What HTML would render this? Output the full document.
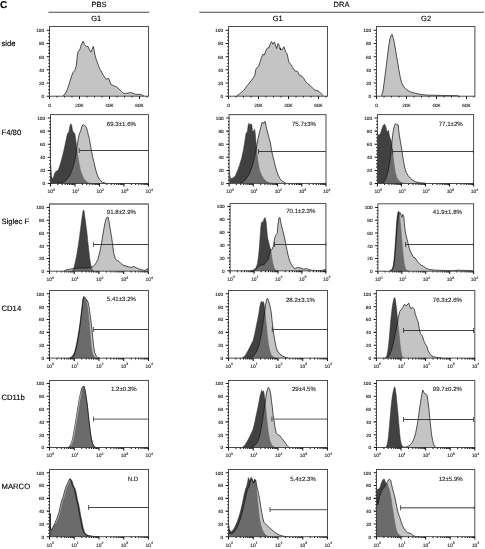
<!DOCTYPE html>
<html><head><meta charset="utf-8"><title>Figure C</title>
<style>html,body{margin:0;padding:0;background:#fff}svg{display:block}text{text-rendering:geometricPrecision;font-family:"Liberation Sans", sans-serif;fill:#000;stroke:#000;stroke-width:0.13px}text.p{fill:#1a1a1a;stroke:#1a1a1a;stroke-width:0.11px}text.t{fill:#222;stroke:#222;stroke-width:0.12px}</style>
</head><body>
<svg width="485" height="549" viewBox="0 0 485 549">
<rect width="485" height="549" fill="#fff"/>
<clipPath id="c00"><rect x="49.5" y="26.5" width="99" height="70"/></clipPath>
<g clip-path="url(#c00)">
<path d="M62.94 96.2L62.94 95.86 65.1 93.99 67.27 89.66 69.43 83.16 71.16 77.39 73.04 72.34 74.91 70.18 76.36 65.13 77.37 55.02 78.09 51.42 79.53 50.41 80.97 45.65 83.14 41.32 84.58 44.63 86.02 46.08 88.19 46.8 89.63 49.97 91.08 52.14 92.23 49.25 93.24 46.37 94.25 50.7 95.4 57.19 96.85 60.8 98.29 65.13 99.73 68.73 103.09 74.85 106.19 79.18 108.66 78.56 111.14 84.75 113.61 85.62 116.71 86.98 119.8 89.7 123.51 93.42 127.85 93.17 130.32 92.43 132.8 93.17 135.27 94.28 138.37 94.41 140.84 94.28 142.7 95.52 144.55 96.2L144.55 96.2Z" fill="rgb(145,145,145)" fill-opacity="0.534" stroke="none"/>
<path d="M62.94 95.86 65.1 93.99 67.27 89.66 69.43 83.16 71.16 77.39 73.04 72.34 74.91 70.18 76.36 65.13 77.37 55.02 78.09 51.42 79.53 50.41 80.97 45.65 83.14 41.32 84.58 44.63 86.02 46.08 88.19 46.8 89.63 49.97 91.08 52.14 92.23 49.25 93.24 46.37 94.25 50.7 95.4 57.19 96.85 60.8 98.29 65.13 99.73 68.73 103.09 74.85 106.19 79.18 108.66 78.56 111.14 84.75 113.61 85.62 116.71 86.98 119.8 89.7 123.51 93.42 127.85 93.17 130.32 92.43 132.8 93.17 135.27 94.28 138.37 94.41 140.84 94.28 142.7 95.52 144.55 96.2" fill="none" stroke="#141414" stroke-width="0.72" stroke-linejoin="round"/>
</g>
<rect x="49.5" y="26.5" width="99" height="69.7" fill="none" stroke="#464646" stroke-width="0.95"/>
<path d="M46.7 96.2H49.5M48.3 92.91H49.5M48.3 89.61H49.5M48.3 86.31H49.5M46.7 83.02H49.5M48.3 79.72H49.5M48.3 76.43H49.5M48.3 73.14H49.5M46.7 69.84H49.5M48.3 66.55H49.5M48.3 63.25H49.5M48.3 59.95H49.5M46.7 56.66H49.5M48.3 53.36H49.5M48.3 50.07H49.5M48.3 46.77H49.5M46.7 43.48H49.5M48.3 40.18H49.5M48.3 36.89H49.5M48.3 33.59H49.5M46.7 30.3H49.5" stroke="#161616" stroke-width="1.05" fill="none"/>
<text x="44.1" y="98.05" font-size="4.7" text-anchor="end" class="t">0</text>
<text x="44.1" y="84.87" font-size="4.7" text-anchor="end" class="t">20</text>
<text x="44.1" y="71.69" font-size="4.7" text-anchor="end" class="t">40</text>
<text x="44.1" y="58.51" font-size="4.7" text-anchor="end" class="t">60</text>
<text x="44.1" y="45.33" font-size="4.7" text-anchor="end" class="t">80</text>
<text x="44.1" y="32.15" font-size="4.7" text-anchor="end" class="t">100</text>
<text x="49.5" y="106.7" font-size="4.7" text-anchor="middle" class="t">0</text>
<text x="79.5" y="106.7" font-size="4.7" text-anchor="middle" class="t">20K</text>
<text x="109.5" y="106.7" font-size="4.7" text-anchor="middle" class="t">40K</text>
<text x="139.5" y="106.7" font-size="4.7" text-anchor="middle" class="t">60K</text>
<path d="M49.5 96.2V99.1M57 96.2V97.5M64.5 96.2V97.5M72 96.2V97.5M79.5 96.2V99.1M87 96.2V97.5M94.5 96.2V97.5M102 96.2V97.5M109.5 96.2V99.1M117 96.2V97.5M124.5 96.2V97.5M132 96.2V97.5M139.5 96.2V99.1M147 96.2V97.5" stroke="#161616" stroke-width="1.05" fill="none"/>
<clipPath id="c01"><rect x="228.5" y="26.5" width="99" height="70"/></clipPath>
<g clip-path="url(#c01)">
<path d="M236.54 96.2L236.54 96.15 239.43 93.99 243.76 90.38 247.37 85.33 250.97 81 254.58 75.95 256.02 68.73 258.91 65.85 261.08 58.63 262.81 54.3 264.25 55.02 266.13 49.97 267.57 47.81 269.01 47.81 270.45 43.48 271.46 41.6 272.91 44.2 274.35 42.04 275.51 44.92 276.52 48.53 278.1 43.48 279.55 46.37 280.56 49.97 280 47.94 281.7 50.21 283.97 46.8 285.67 51.91 287.03 53.61 288.85 62.11 290.77 64.38 292.47 67.22 294.74 70.85 297.58 71.53 299.28 75.16 302.11 76.29 303.81 78.56 305.52 81.39 307.78 83.66 310.05 85.36 312.32 87.86 314.59 89.9 316.86 90.46 319.12 91.6 321.39 93.87 323.66 96.14L323.66 96.2Z" fill="rgb(145,145,145)" fill-opacity="0.534" stroke="none"/>
<path d="M236.54 96.15 239.43 93.99 243.76 90.38 247.37 85.33 250.97 81 254.58 75.95 256.02 68.73 258.91 65.85 261.08 58.63 262.81 54.3 264.25 55.02 266.13 49.97 267.57 47.81 269.01 47.81 270.45 43.48 271.46 41.6 272.91 44.2 274.35 42.04 275.51 44.92 276.52 48.53 278.1 43.48 279.55 46.37 280.56 49.97 280 47.94 281.7 50.21 283.97 46.8 285.67 51.91 287.03 53.61 288.85 62.11 290.77 64.38 292.47 67.22 294.74 70.85 297.58 71.53 299.28 75.16 302.11 76.29 303.81 78.56 305.52 81.39 307.78 83.66 310.05 85.36 312.32 87.86 314.59 89.9 316.86 90.46 319.12 91.6 321.39 93.87 323.66 96.14" fill="none" stroke="#141414" stroke-width="0.72" stroke-linejoin="round"/>
</g>
<rect x="228.5" y="26.5" width="99" height="69.7" fill="none" stroke="#464646" stroke-width="0.95"/>
<path d="M225.7 96.2H228.5M227.3 92.91H228.5M227.3 89.61H228.5M227.3 86.31H228.5M225.7 83.02H228.5M227.3 79.72H228.5M227.3 76.43H228.5M227.3 73.14H228.5M225.7 69.84H228.5M227.3 66.55H228.5M227.3 63.25H228.5M227.3 59.95H228.5M225.7 56.66H228.5M227.3 53.36H228.5M227.3 50.07H228.5M227.3 46.77H228.5M225.7 43.48H228.5M227.3 40.18H228.5M227.3 36.89H228.5M227.3 33.59H228.5M225.7 30.3H228.5" stroke="#161616" stroke-width="1.05" fill="none"/>
<text x="223.1" y="98.05" font-size="4.7" text-anchor="end" class="t">0</text>
<text x="223.1" y="84.87" font-size="4.7" text-anchor="end" class="t">20</text>
<text x="223.1" y="71.69" font-size="4.7" text-anchor="end" class="t">40</text>
<text x="223.1" y="58.51" font-size="4.7" text-anchor="end" class="t">60</text>
<text x="223.1" y="45.33" font-size="4.7" text-anchor="end" class="t">80</text>
<text x="223.1" y="32.15" font-size="4.7" text-anchor="end" class="t">100</text>
<text x="228.5" y="106.7" font-size="4.7" text-anchor="middle" class="t">0</text>
<text x="258.5" y="106.7" font-size="4.7" text-anchor="middle" class="t">20K</text>
<text x="288.5" y="106.7" font-size="4.7" text-anchor="middle" class="t">40K</text>
<text x="318.5" y="106.7" font-size="4.7" text-anchor="middle" class="t">60K</text>
<path d="M228.5 96.2V99.1M236 96.2V97.5M243.5 96.2V97.5M251 96.2V97.5M258.5 96.2V99.1M266 96.2V97.5M273.5 96.2V97.5M281 96.2V97.5M288.5 96.2V99.1M296 96.2V97.5M303.5 96.2V97.5M311 96.2V97.5M318.5 96.2V99.1M326 96.2V97.5" stroke="#161616" stroke-width="1.05" fill="none"/>
<clipPath id="c02"><rect x="376.5" y="26.5" width="98.4" height="70"/></clipPath>
<g clip-path="url(#c02)">
<path d="M381.38 96.2L381.38 95.72 382.82 91.82 384.27 81.72 385.71 70.18 387.15 58.63 388.59 47.09 390.04 38.43 391.48 34.82 392.2 34.39 393.36 38.43 394.37 42.76 395.81 51.42 397.25 60.08 398.7 68.73 400.14 76.67 401.58 82.44 403.75 86.77 406.63 89.66 410.24 91.82 415.29 93.26 421.06 94.42 426.83 95.14 441.99 95.43 458.58 95.72L458.58 96.2Z" fill="rgb(145,145,145)" fill-opacity="0.534" stroke="none"/>
<path d="M381.38 95.72 382.82 91.82 384.27 81.72 385.71 70.18 387.15 58.63 388.59 47.09 390.04 38.43 391.48 34.82 392.2 34.39 393.36 38.43 394.37 42.76 395.81 51.42 397.25 60.08 398.7 68.73 400.14 76.67 401.58 82.44 403.75 86.77 406.63 89.66 410.24 91.82 415.29 93.26 421.06 94.42 426.83 95.14 441.99 95.43 458.58 95.72" fill="none" stroke="#141414" stroke-width="0.72" stroke-linejoin="round"/>
</g>
<rect x="376.5" y="26.5" width="98.4" height="69.7" fill="none" stroke="#464646" stroke-width="0.95"/>
<path d="M373.7 96.2H376.5M375.3 92.91H376.5M375.3 89.61H376.5M375.3 86.31H376.5M373.7 83.02H376.5M375.3 79.72H376.5M375.3 76.43H376.5M375.3 73.14H376.5M373.7 69.84H376.5M375.3 66.55H376.5M375.3 63.25H376.5M375.3 59.95H376.5M373.7 56.66H376.5M375.3 53.36H376.5M375.3 50.07H376.5M375.3 46.77H376.5M373.7 43.48H376.5M375.3 40.18H376.5M375.3 36.89H376.5M375.3 33.59H376.5M373.7 30.3H376.5" stroke="#161616" stroke-width="1.05" fill="none"/>
<text x="371.1" y="98.05" font-size="4.7" text-anchor="end" class="t">0</text>
<text x="371.1" y="84.87" font-size="4.7" text-anchor="end" class="t">20</text>
<text x="371.1" y="71.69" font-size="4.7" text-anchor="end" class="t">40</text>
<text x="371.1" y="58.51" font-size="4.7" text-anchor="end" class="t">60</text>
<text x="371.1" y="45.33" font-size="4.7" text-anchor="end" class="t">80</text>
<text x="371.1" y="32.15" font-size="4.7" text-anchor="end" class="t">100</text>
<text x="376.5" y="106.7" font-size="4.7" text-anchor="middle" class="t">0</text>
<text x="406.5" y="106.7" font-size="4.7" text-anchor="middle" class="t">20K</text>
<text x="436.5" y="106.7" font-size="4.7" text-anchor="middle" class="t">40K</text>
<text x="466.5" y="106.7" font-size="4.7" text-anchor="middle" class="t">60K</text>
<path d="M376.5 96.2V99.1M384 96.2V97.5M391.5 96.2V97.5M399 96.2V97.5M406.5 96.2V99.1M414 96.2V97.5M421.5 96.2V97.5M429 96.2V97.5M436.5 96.2V99.1M444 96.2V97.5M451.5 96.2V97.5M459 96.2V97.5M466.5 96.2V99.1M474 96.2V97.5" stroke="#161616" stroke-width="1.05" fill="none"/>
<clipPath id="c10"><rect x="50.5" y="114.6" width="98" height="69.2"/></clipPath>
<g clip-path="url(#c10)">
<path d="M50.48 183.5L50.48 183.14 50.63 163.95 51.49 175.49 52.22 178.67 53.37 177.66 54.38 174.05 55.82 171.45 57.99 170.44 59.43 166.83 61.59 159.62 63.76 150.96 65.92 140.86 67.37 133.65 68.81 132.2 69.82 126.43 70.69 123.83 71.7 124.99 72.42 130.04 73.57 132.2 74.87 133.65 75.59 137.97 76.46 145.19 77.47 153.85 78.91 162.51 80.35 169.72 81.8 174.05 83.67 178.38 86.13 181.26 88.29 182.71 90.45 183.14L90.45 183.5Z" fill="#414141" stroke="#303030" stroke-width="0.5" stroke-linejoin="round"/>
<path d="M57.99 183.5L57.99 183.14 62.32 182.42 65.92 180.54 68.81 176.94 70.97 172.61 73.14 166.83 74.58 161.06 76.02 153.85 77.03 146.63 78.19 139.42 79.34 133.65 80.79 130.76 81.8 126.43 82.81 124.7 84.25 125.28 85.4 126 86.56 127.87 87.57 131.48 88.29 135.09 89.44 138.7 90.45 145.19 91.46 150.96 92.62 156.73 94.06 162.51 95.51 169 96.95 174.05 98.68 178.09 100.56 180.54 102.72 182.27 105.61 183.14L105.61 183.5Z" fill="rgb(145,145,145)" fill-opacity="0.534" stroke="none"/>
<path d="M57.99 183.14 62.32 182.42 65.92 180.54 68.81 176.94 70.97 172.61 73.14 166.83 74.58 161.06 76.02 153.85 77.03 146.63 78.19 139.42 79.34 133.65 80.79 130.76 81.8 126.43 82.81 124.7 84.25 125.28 85.4 126 86.56 127.87 87.57 131.48 88.29 135.09 89.44 138.7 90.45 145.19 91.46 150.96 92.62 156.73 94.06 162.51 95.51 169 96.95 174.05 98.68 178.09 100.56 180.54 102.72 182.27 105.61 183.14" fill="none" stroke="#141414" stroke-width="0.72" stroke-linejoin="round"/>
</g>
<path d="M79.2 150.5H148.4" stroke="#2e2e2e" stroke-width="0.9" fill="none"/>
<path d="M79.2 148V153" stroke="#2e2e2e" stroke-width="0.8" fill="none"/>
<text x="121.4" y="125.75" font-size="6.1" text-anchor="middle" class="p">69.3±1.6%</text>
<rect x="50.5" y="114.6" width="98" height="68.9" fill="none" stroke="#464646" stroke-width="0.95"/>
<path d="M47.7 183.5H50.5M49.3 180.22H50.5M49.3 176.95H50.5M49.3 173.68H50.5M47.7 170.4H50.5M49.3 167.12H50.5M49.3 163.85H50.5M49.3 160.57H50.5M47.7 157.3H50.5M49.3 154.03H50.5M49.3 150.75H50.5M49.3 147.47H50.5M47.7 144.2H50.5M49.3 140.93H50.5M49.3 137.65H50.5M49.3 134.38H50.5M47.7 131.1H50.5M49.3 127.83H50.5M49.3 124.55H50.5M49.3 121.28H50.5M47.7 118H50.5" stroke="#161616" stroke-width="1.05" fill="none"/>
<text x="45.1" y="185.35" font-size="4.7" text-anchor="end" class="t">0</text>
<text x="45.1" y="172.25" font-size="4.7" text-anchor="end" class="t">20</text>
<text x="45.1" y="159.15" font-size="4.7" text-anchor="end" class="t">40</text>
<text x="45.1" y="146.05" font-size="4.7" text-anchor="end" class="t">60</text>
<text x="45.1" y="132.95" font-size="4.7" text-anchor="end" class="t">80</text>
<text x="45.1" y="119.85" font-size="4.7" text-anchor="end" class="t">100</text>
<text x="47.6" y="193.3" font-size="4.9" class="t">10<tspan dy="-2.5" font-size="3.6">0</tspan></text>
<text x="72.1" y="193.3" font-size="4.9" class="t">10<tspan dy="-2.5" font-size="3.6">1</tspan></text>
<text x="96.6" y="193.3" font-size="4.9" class="t">10<tspan dy="-2.5" font-size="3.6">2</tspan></text>
<text x="121.1" y="193.3" font-size="4.9" class="t">10<tspan dy="-2.5" font-size="3.6">3</tspan></text>
<text x="145.6" y="193.3" font-size="4.9" class="t">10<tspan dy="-2.5" font-size="3.6">4</tspan></text>
<path d="M50.5 183.5V186.4M57.88 183.5V184.9M62.19 183.5V184.9M65.25 183.5V184.9M67.62 183.5V184.9M69.56 183.5V184.9M71.2 183.5V184.9M72.63 183.5V184.9M73.88 183.5V184.9M75 183.5V186.4M82.38 183.5V184.9M86.69 183.5V184.9M89.75 183.5V184.9M92.12 183.5V184.9M94.06 183.5V184.9M95.7 183.5V184.9M97.13 183.5V184.9M98.38 183.5V184.9M99.5 183.5V186.4M106.88 183.5V184.9M111.19 183.5V184.9M114.25 183.5V184.9M116.62 183.5V184.9M118.56 183.5V184.9M120.2 183.5V184.9M121.63 183.5V184.9M122.88 183.5V184.9M124 183.5V186.4M131.38 183.5V184.9M135.69 183.5V184.9M138.75 183.5V184.9M141.12 183.5V184.9M143.06 183.5V184.9M144.7 183.5V184.9M146.13 183.5V184.9M147.38 183.5V184.9M148.5 183.5V186.4" stroke="#161616" stroke-width="1.05" fill="none"/>
<clipPath id="c11"><rect x="229.1" y="114.6" width="96.9" height="69.2"/></clipPath>
<g clip-path="url(#c11)">
<path d="M229.33 183.5L229.33 183.14 229.47 169.72 229.91 175.49 230.77 178.67 232.94 178.09 235.1 176.21 237.27 171.16 239.43 165.39 241.59 158.18 243.47 149.52 244.91 140.86 245.92 133.65 247.37 131.48 248.09 125.71 248.81 123.26 249.82 124.7 250.97 123.83 251.84 124.99 252.42 130.76 253.43 131.48 254.58 129.03 255.3 133.65 255.74 139.42 256.46 146.63 257.03 153.85 257.9 161.06 258.91 166.83 259.92 171.16 261.8 175.49 263.67 178.67 266.13 181.26 269.01 182.71 272.62 183.14L272.62 183.5Z" fill="#414141" stroke="#303030" stroke-width="0.5" stroke-linejoin="round"/>
<path d="M239.43 183.5L239.43 183.14 243.04 181.99 245.92 179.1 248.81 174.77 250.97 169.72 253.14 163.23 254.58 156.73 256.02 150.24 257.03 144.47 258.19 137.97 259.63 131.48 261.08 126.43 261.8 122.82 262.81 122.39 263.67 123.54 264.68 121.38 265.4 121.81 266.13 126.43 267.14 130.76 268.29 135.09 269.44 139.42 270.45 143.02 271.46 149.52 272.62 155.29 274.06 161.06 275.51 166.83 276.95 171.88 278.68 176.21 280.56 179.53 282.72 181.55 285.61 183.14L285.61 183.5Z" fill="rgb(145,145,145)" fill-opacity="0.534" stroke="none"/>
<path d="M239.43 183.14 243.04 181.99 245.92 179.1 248.81 174.77 250.97 169.72 253.14 163.23 254.58 156.73 256.02 150.24 257.03 144.47 258.19 137.97 259.63 131.48 261.08 126.43 261.8 122.82 262.81 122.39 263.67 123.54 264.68 121.38 265.4 121.81 266.13 126.43 267.14 130.76 268.29 135.09 269.44 139.42 270.45 143.02 271.46 149.52 272.62 155.29 274.06 161.06 275.51 166.83 276.95 171.88 278.68 176.21 280.56 179.53 282.72 181.55 285.61 183.14" fill="none" stroke="#141414" stroke-width="0.72" stroke-linejoin="round"/>
</g>
<path d="M258.5 151.5H326" stroke="#2e2e2e" stroke-width="0.9" fill="none"/>
<path d="M258.5 149V154" stroke="#2e2e2e" stroke-width="0.8" fill="none"/>
<text x="304" y="125.65" font-size="6.1" text-anchor="middle" class="p">75.7±3%</text>
<rect x="229.1" y="114.6" width="96.9" height="68.9" fill="none" stroke="#5a5a5a" stroke-width="1.1"/>
<path d="M226.3 183.5H229.1M227.9 180.22H229.1M227.9 176.95H229.1M227.9 173.68H229.1M226.3 170.4H229.1M227.9 167.12H229.1M227.9 163.85H229.1M227.9 160.57H229.1M226.3 157.3H229.1M227.9 154.03H229.1M227.9 150.75H229.1M227.9 147.47H229.1M226.3 144.2H229.1M227.9 140.93H229.1M227.9 137.65H229.1M227.9 134.38H229.1M226.3 131.1H229.1M227.9 127.83H229.1M227.9 124.55H229.1M227.9 121.28H229.1M226.3 118H229.1" stroke="#161616" stroke-width="1.05" fill="none"/>
<text x="223.7" y="185.35" font-size="4.7" text-anchor="end" class="t">0</text>
<text x="223.7" y="172.25" font-size="4.7" text-anchor="end" class="t">20</text>
<text x="223.7" y="159.15" font-size="4.7" text-anchor="end" class="t">40</text>
<text x="223.7" y="146.05" font-size="4.7" text-anchor="end" class="t">60</text>
<text x="223.7" y="132.95" font-size="4.7" text-anchor="end" class="t">80</text>
<text x="223.7" y="119.85" font-size="4.7" text-anchor="end" class="t">100</text>
<text x="226.2" y="193.3" font-size="4.9" class="t">10<tspan dy="-2.5" font-size="3.6">0</tspan></text>
<text x="250.42" y="193.3" font-size="4.9" class="t">10<tspan dy="-2.5" font-size="3.6">1</tspan></text>
<text x="274.65" y="193.3" font-size="4.9" class="t">10<tspan dy="-2.5" font-size="3.6">2</tspan></text>
<text x="298.88" y="193.3" font-size="4.9" class="t">10<tspan dy="-2.5" font-size="3.6">3</tspan></text>
<text x="323.1" y="193.3" font-size="4.9" class="t">10<tspan dy="-2.5" font-size="3.6">4</tspan></text>
<path d="M229.1 183.5V186.4M236.39 183.5V184.9M240.66 183.5V184.9M243.68 183.5V184.9M246.03 183.5V184.9M247.95 183.5V184.9M249.57 183.5V184.9M250.98 183.5V184.9M252.22 183.5V184.9M253.32 183.5V186.4M260.62 183.5V184.9M264.88 183.5V184.9M267.91 183.5V184.9M270.26 183.5V184.9M272.18 183.5V184.9M273.8 183.5V184.9M275.2 183.5V184.9M276.44 183.5V184.9M277.55 183.5V186.4M284.84 183.5V184.9M289.11 183.5V184.9M292.13 183.5V184.9M294.48 183.5V184.9M296.4 183.5V184.9M298.02 183.5V184.9M299.43 183.5V184.9M300.67 183.5V184.9M301.77 183.5V186.4M309.07 183.5V184.9M313.33 183.5V184.9M316.36 183.5V184.9M318.71 183.5V184.9M320.63 183.5V184.9M322.25 183.5V184.9M323.65 183.5V184.9M324.89 183.5V184.9M326 183.5V186.4" stroke="#161616" stroke-width="1.05" fill="none"/>
<clipPath id="c12"><rect x="377.4" y="114.6" width="96.2" height="69.2"/></clipPath>
<g clip-path="url(#c12)">
<path d="M377.48 183.5L377.48 183.14 377.63 135.09 379.22 134.8 380.37 133.65 381.38 130.76 382.39 127.15 383.54 124.99 384.7 124.27 385.71 126.43 386.72 130.76 387.58 132.2 388.45 130.04 389.32 135.09 390.33 138.7 391.19 140.86 391.91 144.47 392.63 150.96 393.36 158.18 394.37 166.11 395.38 172.61 396.82 177.66 398.7 180.54 400.86 182.27 403.75 183.14L403.75 183.5Z" fill="#414141" stroke="#303030" stroke-width="0.5" stroke-linejoin="round"/>
<path d="M382.82 183.5L382.82 183.14 384.99 180.54 386.43 176.94 387.87 171.88 389.03 166.11 390.04 159.62 391.05 150.96 391.91 142.3 392.63 135.09 393.65 128.59 394.8 124.99 395.81 123.54 396.82 124.7 398.26 124.99 398.7 130.04 399.42 135.81 400.43 141.58 401.58 148.08 402.59 155.29 403.75 162.51 404.9 168.28 406.34 172.61 408.08 175.49 410.24 178.09 412.4 180.11 415.29 181.7 419.62 182.71 425.39 183.14L425.39 183.5Z" fill="rgb(145,145,145)" fill-opacity="0.534" stroke="none"/>
<path d="M382.82 183.14 384.99 180.54 386.43 176.94 387.87 171.88 389.03 166.11 390.04 159.62 391.05 150.96 391.91 142.3 392.63 135.09 393.65 128.59 394.8 124.99 395.81 123.54 396.82 124.7 398.26 124.99 398.7 130.04 399.42 135.81 400.43 141.58 401.58 148.08 402.59 155.29 403.75 162.51 404.9 168.28 406.34 172.61 408.08 175.49 410.24 178.09 412.4 180.11 415.29 181.7 419.62 182.71 425.39 183.14" fill="none" stroke="#141414" stroke-width="0.72" stroke-linejoin="round"/>
</g>
<path d="M392.6 151.5H473.6" stroke="#2e2e2e" stroke-width="0.9" fill="none"/>
<path d="M392.6 149V154M473.4 149.9V153.1" stroke="#2e2e2e" stroke-width="0.8" fill="none"/>
<text x="450.7" y="125.65" font-size="6.1" text-anchor="middle" class="p">77.1±2%</text>
<rect x="377.4" y="114.6" width="96.2" height="68.9" fill="none" stroke="#464646" stroke-width="0.95"/>
<path d="M374.6 183.5H377.4M376.2 180.22H377.4M376.2 176.95H377.4M376.2 173.68H377.4M374.6 170.4H377.4M376.2 167.12H377.4M376.2 163.85H377.4M376.2 160.57H377.4M374.6 157.3H377.4M376.2 154.03H377.4M376.2 150.75H377.4M376.2 147.47H377.4M374.6 144.2H377.4M376.2 140.93H377.4M376.2 137.65H377.4M376.2 134.38H377.4M374.6 131.1H377.4M376.2 127.83H377.4M376.2 124.55H377.4M376.2 121.28H377.4M374.6 118H377.4" stroke="#161616" stroke-width="1.05" fill="none"/>
<text x="372" y="185.35" font-size="4.7" text-anchor="end" class="t">0</text>
<text x="372" y="172.25" font-size="4.7" text-anchor="end" class="t">20</text>
<text x="372" y="159.15" font-size="4.7" text-anchor="end" class="t">40</text>
<text x="372" y="146.05" font-size="4.7" text-anchor="end" class="t">60</text>
<text x="372" y="132.95" font-size="4.7" text-anchor="end" class="t">80</text>
<text x="372" y="119.85" font-size="4.7" text-anchor="end" class="t">100</text>
<text x="374.5" y="193.3" font-size="4.9" class="t">10<tspan dy="-2.5" font-size="3.6">0</tspan></text>
<text x="398.55" y="193.3" font-size="4.9" class="t">10<tspan dy="-2.5" font-size="3.6">1</tspan></text>
<text x="422.6" y="193.3" font-size="4.9" class="t">10<tspan dy="-2.5" font-size="3.6">2</tspan></text>
<text x="446.65" y="193.3" font-size="4.9" class="t">10<tspan dy="-2.5" font-size="3.6">3</tspan></text>
<text x="470.7" y="193.3" font-size="4.9" class="t">10<tspan dy="-2.5" font-size="3.6">4</tspan></text>
<path d="M377.4 183.5V186.4M384.64 183.5V184.9M388.87 183.5V184.9M391.88 183.5V184.9M394.21 183.5V184.9M396.11 183.5V184.9M397.72 183.5V184.9M399.12 183.5V184.9M400.35 183.5V184.9M401.45 183.5V186.4M408.69 183.5V184.9M412.92 183.5V184.9M415.93 183.5V184.9M418.26 183.5V184.9M420.16 183.5V184.9M421.77 183.5V184.9M423.17 183.5V184.9M424.4 183.5V184.9M425.5 183.5V186.4M432.74 183.5V184.9M436.97 183.5V184.9M439.98 183.5V184.9M442.31 183.5V184.9M444.21 183.5V184.9M445.82 183.5V184.9M447.22 183.5V184.9M448.45 183.5V184.9M449.55 183.5V186.4M456.79 183.5V184.9M461.02 183.5V184.9M464.03 183.5V184.9M466.36 183.5V184.9M468.26 183.5V184.9M469.87 183.5V184.9M471.27 183.5V184.9M472.5 183.5V184.9M473.6 183.5V186.4" stroke="#161616" stroke-width="1.05" fill="none"/>
<clipPath id="c20"><rect x="49.5" y="203.8" width="98.9" height="67.7"/></clipPath>
<g clip-path="url(#c20)">
<path d="M72.42 271.2L72.42 271.14 73.86 267.82 75.3 262.05 76.75 254.83 78.19 246.18 79.63 236.08 81.08 224.53 82.23 215.87 83.24 210.1 83.96 210.39 84.68 215.87 85.69 223.09 86.85 231.75 87.86 241.85 89.01 251.95 90.02 260.61 91.18 266.38 92.62 269.99 94.06 271.14L94.06 271.2Z" fill="#414141" stroke="#303030" stroke-width="0.5" stroke-linejoin="round"/>
<path d="M63.76 271.2L63.76 271.14 66.65 269.7 70.97 268.98 78.19 268.11 86.85 268.11 91.18 267.53 94.06 265.66 96.23 262.77 97.94 259.16 99.81 251.95 101.26 244.73 102.7 236.08 104.14 227.42 105.58 220.2 107.03 217.32 108.04 217.03 109.05 221.65 110.2 228.86 111.65 237.52 112.8 246.18 113.81 253.39 115.25 258.44 116.7 260.32 118.86 261.33 121.02 263.49 123.19 265.22 126.08 266.09 128.96 267.1 131.85 267.24 134.01 266.38 136.18 267.82 139.06 268.98 141.95 269.99 144.83 270.42 147 269.26 148.15 268.11 148.15 271.14L148.15 271.2Z" fill="rgb(145,145,145)" fill-opacity="0.534" stroke="none"/>
<path d="M63.76 271.14 66.65 269.7 70.97 268.98 78.19 268.11 86.85 268.11 91.18 267.53 94.06 265.66 96.23 262.77 97.94 259.16 99.81 251.95 101.26 244.73 102.7 236.08 104.14 227.42 105.58 220.2 107.03 217.32 108.04 217.03 109.05 221.65 110.2 228.86 111.65 237.52 112.8 246.18 113.81 253.39 115.25 258.44 116.7 260.32 118.86 261.33 121.02 263.49 123.19 265.22 126.08 266.09 128.96 267.1 131.85 267.24 134.01 266.38 136.18 267.82 139.06 268.98 141.95 269.99 144.83 270.42 147 269.26 148.15 268.11 148.15 271.14" fill="none" stroke="#141414" stroke-width="0.72" stroke-linejoin="round"/>
</g>
<path d="M93.6 244.5H148.3" stroke="#2e2e2e" stroke-width="0.9" fill="none"/>
<path d="M93.6 242V247" stroke="#2e2e2e" stroke-width="0.8" fill="none"/>
<text x="121.4" y="213.65" font-size="6.1" text-anchor="middle" class="p">91.8±2.9%</text>
<path d="M49.5 203.8V271.2H148.4V203.8" fill="none" stroke="#464646" stroke-width="0.95"/>
<path d="M49.1 204H148.8" fill="none" stroke="#6e6e6e" stroke-width="1.5"/>
<path d="M46.7 271.2H49.5M48.3 268.01H49.5M48.3 264.82H49.5M48.3 261.63H49.5M46.7 258.44H49.5M48.3 255.25H49.5M48.3 252.06H49.5M48.3 248.87H49.5M46.7 245.68H49.5M48.3 242.49H49.5M48.3 239.3H49.5M48.3 236.11H49.5M46.7 232.92H49.5M48.3 229.73H49.5M48.3 226.54H49.5M48.3 223.35H49.5M46.7 220.16H49.5M48.3 216.97H49.5M48.3 213.78H49.5M48.3 210.59H49.5M46.7 207.4H49.5" stroke="#161616" stroke-width="1.05" fill="none"/>
<text x="44.1" y="273.05" font-size="4.7" text-anchor="end" class="t">0</text>
<text x="44.1" y="260.29" font-size="4.7" text-anchor="end" class="t">20</text>
<text x="44.1" y="247.53" font-size="4.7" text-anchor="end" class="t">40</text>
<text x="44.1" y="234.77" font-size="4.7" text-anchor="end" class="t">60</text>
<text x="44.1" y="222.01" font-size="4.7" text-anchor="end" class="t">80</text>
<text x="44.1" y="209.25" font-size="4.7" text-anchor="end" class="t">100</text>
<text x="46.6" y="281" font-size="4.9" class="t">10<tspan dy="-2.5" font-size="3.6">0</tspan></text>
<text x="71.32" y="281" font-size="4.9" class="t">10<tspan dy="-2.5" font-size="3.6">1</tspan></text>
<text x="96.05" y="281" font-size="4.9" class="t">10<tspan dy="-2.5" font-size="3.6">2</tspan></text>
<text x="120.78" y="281" font-size="4.9" class="t">10<tspan dy="-2.5" font-size="3.6">3</tspan></text>
<text x="145.5" y="281" font-size="4.9" class="t">10<tspan dy="-2.5" font-size="3.6">4</tspan></text>
<path d="M49.5 271.2V274.1M56.94 271.2V272.6M61.3 271.2V272.6M64.39 271.2V272.6M66.78 271.2V272.6M68.74 271.2V272.6M70.4 271.2V272.6M71.83 271.2V272.6M73.09 271.2V272.6M74.22 271.2V274.1M81.67 271.2V272.6M86.02 271.2V272.6M89.11 271.2V272.6M91.51 271.2V272.6M93.46 271.2V272.6M95.12 271.2V272.6M96.55 271.2V272.6M97.82 271.2V272.6M98.95 271.2V274.1M106.39 271.2V272.6M110.75 271.2V272.6M113.84 271.2V272.6M116.23 271.2V272.6M118.19 271.2V272.6M119.85 271.2V272.6M121.28 271.2V272.6M122.54 271.2V272.6M123.68 271.2V274.1M131.12 271.2V272.6M135.47 271.2V272.6M138.56 271.2V272.6M140.96 271.2V272.6M142.91 271.2V272.6M144.57 271.2V272.6M146 271.2V272.6M147.27 271.2V272.6M148.4 271.2V274.1" stroke="#161616" stroke-width="1.05" fill="none"/>
<clipPath id="c21"><rect x="230.1" y="203.5" width="95.8" height="67.6"/></clipPath>
<g clip-path="url(#c21)">
<path d="M250.25 270.8L250.25 270.71 253.86 269.99 256.02 267.82 257.47 263.49 258.48 256.28 259.34 247.62 260.06 237.52 260.79 227.42 261.51 222.37 262.52 221.65 263.24 222.37 263.96 218.76 265.12 217.6 266.13 221.65 266.85 230.3 267.57 237.52 268.58 241.85 269.73 246.18 270.89 250.51 271.9 257.72 272.91 263.49 274.06 267.82 275.51 269.99 277.67 270.71L277.67 270.8Z" fill="#414141" stroke="#303030" stroke-width="0.5" stroke-linejoin="round"/>
<path d="M250.97 270.8L250.97 270.71 254.58 269.99 257.47 267.82 259.63 265.66 261.8 264.94 263.96 264.65 266.13 262.05 268.29 259.16 269.44 254.83 270.45 249.78 271.9 249.78 273.34 246.18 274.06 241.85 274.78 237.52 276.23 234.63 277.24 233.19 277.96 224.53 278.82 218.76 279.83 217.32 280.7 221.65 281.57 225.97 282.72 230.3 284.16 236.08 285.61 243.29 287.05 250.51 288.49 257 289.94 261.33 291.67 264.94 293.54 267.53 294.99 268.54 297.42 267.53 301.02 268.11 303.91 269.26 306.08 268.4 308.24 269.55 311.85 270.27 317.62 270.56 322.67 270.42 324.83 269.55 325.27 268.98 325.27 270.71L325.27 270.8Z" fill="rgb(145,145,145)" fill-opacity="0.534" stroke="none"/>
<path d="M250.97 270.71 254.58 269.99 257.47 267.82 259.63 265.66 261.8 264.94 263.96 264.65 266.13 262.05 268.29 259.16 269.44 254.83 270.45 249.78 271.9 249.78 273.34 246.18 274.06 241.85 274.78 237.52 276.23 234.63 277.24 233.19 277.96 224.53 278.82 218.76 279.83 217.32 280.7 221.65 281.57 225.97 282.72 230.3 284.16 236.08 285.61 243.29 287.05 250.51 288.49 257 289.94 261.33 291.67 264.94 293.54 267.53 294.99 268.54 297.42 267.53 301.02 268.11 303.91 269.26 306.08 268.4 308.24 269.55 311.85 270.27 317.62 270.56 322.67 270.42 324.83 269.55 325.27 268.98 325.27 270.71" fill="none" stroke="#141414" stroke-width="0.72" stroke-linejoin="round"/>
</g>
<path d="M274.5 244.5H325.9" stroke="#2e2e2e" stroke-width="0.9" fill="none"/>
<path d="M274.5 242V247M325.7 242.9V246.1" stroke="#2e2e2e" stroke-width="0.8" fill="none"/>
<text x="300.8" y="213.45" font-size="6.1" text-anchor="middle" class="p">70.1±2.3%</text>
<rect x="230.1" y="203.5" width="95.8" height="67.3" fill="none" stroke="#5a5a5a" stroke-width="1.1"/>
<path d="M227.3 270.8H230.1M228.9 267.58H230.1M228.9 264.36H230.1M228.9 261.14H230.1M227.3 257.92H230.1M228.9 254.7H230.1M228.9 251.48H230.1M228.9 248.26H230.1M227.3 245.04H230.1M228.9 241.82H230.1M228.9 238.6H230.1M228.9 235.38H230.1M227.3 232.16H230.1M228.9 228.94H230.1M228.9 225.72H230.1M228.9 222.5H230.1M227.3 219.28H230.1M228.9 216.06H230.1M228.9 212.84H230.1M228.9 209.62H230.1M227.3 206.4H230.1" stroke="#161616" stroke-width="1.05" fill="none"/>
<text x="224.7" y="272.65" font-size="4.7" text-anchor="end" class="t">0</text>
<text x="224.7" y="259.77" font-size="4.7" text-anchor="end" class="t">20</text>
<text x="224.7" y="246.89" font-size="4.7" text-anchor="end" class="t">40</text>
<text x="224.7" y="234.01" font-size="4.7" text-anchor="end" class="t">60</text>
<text x="224.7" y="221.13" font-size="4.7" text-anchor="end" class="t">80</text>
<text x="224.7" y="208.25" font-size="4.7" text-anchor="end" class="t">100</text>
<text x="227.2" y="280.6" font-size="4.9" class="t">10<tspan dy="-2.5" font-size="3.6">0</tspan></text>
<text x="251.15" y="280.6" font-size="4.9" class="t">10<tspan dy="-2.5" font-size="3.6">1</tspan></text>
<text x="275.1" y="280.6" font-size="4.9" class="t">10<tspan dy="-2.5" font-size="3.6">2</tspan></text>
<text x="299.05" y="280.6" font-size="4.9" class="t">10<tspan dy="-2.5" font-size="3.6">3</tspan></text>
<text x="323" y="280.6" font-size="4.9" class="t">10<tspan dy="-2.5" font-size="3.6">4</tspan></text>
<path d="M230.1 270.8V273.7M237.31 270.8V272.2M241.53 270.8V272.2M244.52 270.8V272.2M246.84 270.8V272.2M248.74 270.8V272.2M250.34 270.8V272.2M251.73 270.8V272.2M252.95 270.8V272.2M254.05 270.8V273.7M261.26 270.8V272.2M265.48 270.8V272.2M268.47 270.8V272.2M270.79 270.8V272.2M272.69 270.8V272.2M274.29 270.8V272.2M275.68 270.8V272.2M276.9 270.8V272.2M278 270.8V273.7M285.21 270.8V272.2M289.43 270.8V272.2M292.42 270.8V272.2M294.74 270.8V272.2M296.64 270.8V272.2M298.24 270.8V272.2M299.63 270.8V272.2M300.85 270.8V272.2M301.95 270.8V273.7M309.16 270.8V272.2M313.38 270.8V272.2M316.37 270.8V272.2M318.69 270.8V272.2M320.59 270.8V272.2M322.19 270.8V272.2M323.58 270.8V272.2M324.8 270.8V272.2M325.9 270.8V273.7" stroke="#161616" stroke-width="1.05" fill="none"/>
<clipPath id="c22"><rect x="377.9" y="203.8" width="95.7" height="67.7"/></clipPath>
<g clip-path="url(#c22)">
<path d="M390.04 271.2L390.04 270.71 392.2 269.26 393.36 264.94 394.37 256.28 395.09 246.18 395.81 234.63 396.53 223.09 397.25 215.87 397.97 211.83 398.84 211.54 399.42 214.43 400.14 220.2 400.86 228.86 401.73 238.96 402.59 249.06 403.46 257.72 404.47 264.94 405.48 268.54 406.63 270.42 408.08 270.71L408.08 271.2Z" fill="#414141" stroke="#303030" stroke-width="0.5" stroke-linejoin="round"/>
<path d="M390.04 271.2L390.04 270.71 392.2 269.99 393.65 266.38 394.66 259.16 395.52 249.06 396.24 238.96 397.11 227.42 397.97 218.76 398.84 214.43 399.71 212.27 400.57 212.99 401.29 215.87 402.01 217.32 402.88 214.43 403.75 216.59 404.32 223.09 404.9 228.86 405.91 234.63 406.92 238.96 408.08 243.29 409.52 249.06 411.68 254.11 413.85 257.72 415 257.72 417.89 262.05 420.77 264.94 423.66 266.38 426.54 268.54 429.43 269.55 435.2 270.13 443.86 270.42 452.52 270.71 458.29 270.13 464.06 270.42 472.72 270.71L472.72 271.2Z" fill="rgb(145,145,145)" fill-opacity="0.534" stroke="none"/>
<path d="M390.04 270.71 392.2 269.99 393.65 266.38 394.66 259.16 395.52 249.06 396.24 238.96 397.11 227.42 397.97 218.76 398.84 214.43 399.71 212.27 400.57 212.99 401.29 215.87 402.01 217.32 402.88 214.43 403.75 216.59 404.32 223.09 404.9 228.86 405.91 234.63 406.92 238.96 408.08 243.29 409.52 249.06 411.68 254.11 413.85 257.72 415 257.72 417.89 262.05 420.77 264.94 423.66 266.38 426.54 268.54 429.43 269.55 435.2 270.13 443.86 270.42 452.52 270.71 458.29 270.13 464.06 270.42 472.72 270.71" fill="none" stroke="#141414" stroke-width="0.72" stroke-linejoin="round"/>
</g>
<path d="M405.6 244.5H473.6" stroke="#2e2e2e" stroke-width="0.9" fill="none"/>
<path d="M405.6 242V247M473.4 242.9V246.1" stroke="#2e2e2e" stroke-width="0.8" fill="none"/>
<text x="447.4" y="213.65" font-size="6.1" text-anchor="middle" class="p">41.9±1.8%</text>
<rect x="377.9" y="203.8" width="95.7" height="67.4" fill="none" stroke="#464646" stroke-width="0.95"/>
<path d="M375.1 271.2H377.9M376.7 268.01H377.9M376.7 264.82H377.9M376.7 261.63H377.9M375.1 258.44H377.9M376.7 255.25H377.9M376.7 252.06H377.9M376.7 248.87H377.9M375.1 245.68H377.9M376.7 242.49H377.9M376.7 239.3H377.9M376.7 236.11H377.9M375.1 232.92H377.9M376.7 229.73H377.9M376.7 226.54H377.9M376.7 223.35H377.9M375.1 220.16H377.9M376.7 216.97H377.9M376.7 213.78H377.9M376.7 210.59H377.9M375.1 207.4H377.9" stroke="#161616" stroke-width="1.05" fill="none"/>
<text x="372.5" y="273.05" font-size="4.7" text-anchor="end" class="t">0</text>
<text x="372.5" y="260.29" font-size="4.7" text-anchor="end" class="t">20</text>
<text x="372.5" y="247.53" font-size="4.7" text-anchor="end" class="t">40</text>
<text x="372.5" y="234.77" font-size="4.7" text-anchor="end" class="t">60</text>
<text x="372.5" y="222.01" font-size="4.7" text-anchor="end" class="t">80</text>
<text x="372.5" y="209.25" font-size="4.7" text-anchor="end" class="t">100</text>
<text x="375" y="281" font-size="4.9" class="t">10<tspan dy="-2.5" font-size="3.6">0</tspan></text>
<text x="398.93" y="281" font-size="4.9" class="t">10<tspan dy="-2.5" font-size="3.6">1</tspan></text>
<text x="422.85" y="281" font-size="4.9" class="t">10<tspan dy="-2.5" font-size="3.6">2</tspan></text>
<text x="446.78" y="281" font-size="4.9" class="t">10<tspan dy="-2.5" font-size="3.6">3</tspan></text>
<text x="470.7" y="281" font-size="4.9" class="t">10<tspan dy="-2.5" font-size="3.6">4</tspan></text>
<path d="M377.9 271.2V274.1M385.1 271.2V272.6M389.32 271.2V272.6M392.3 271.2V272.6M394.62 271.2V272.6M396.52 271.2V272.6M398.12 271.2V272.6M399.51 271.2V272.6M400.73 271.2V272.6M401.82 271.2V274.1M409.03 271.2V272.6M413.24 271.2V272.6M416.23 271.2V272.6M418.55 271.2V272.6M420.44 271.2V272.6M422.04 271.2V272.6M423.43 271.2V272.6M424.66 271.2V272.6M425.75 271.2V274.1M432.95 271.2V272.6M437.17 271.2V272.6M440.15 271.2V272.6M442.47 271.2V272.6M444.37 271.2V272.6M445.97 271.2V272.6M447.36 271.2V272.6M448.58 271.2V272.6M449.68 271.2V274.1M456.88 271.2V272.6M461.09 271.2V272.6M464.08 271.2V272.6M466.4 271.2V272.6M468.29 271.2V272.6M469.89 271.2V272.6M471.28 271.2V272.6M472.51 271.2V272.6M473.6 271.2V274.1" stroke="#161616" stroke-width="1.05" fill="none"/>
<clipPath id="c30"><rect x="49.5" y="290.5" width="99" height="67.9"/></clipPath>
<g clip-path="url(#c30)">
<path d="M69.53 358.1L69.53 358 72.42 356.26 74.58 351.94 76.02 346.16 77.47 338.95 78.91 330.29 80.35 320.19 81.36 311.53 82.23 304.32 82.95 298.54 83.67 296.38 84.68 298.54 85.69 300.71 86.56 299.99 87.28 305.76 88.29 312.97 89.01 320.19 89.73 327.4 90.45 336.06 91.18 344.72 92.19 351.94 93.34 355.54 94.78 357.42 96.23 358L96.23 358.1Z" fill="#414141" stroke="#303030" stroke-width="0.5" stroke-linejoin="round"/>
<path d="M70.97 358.1L70.97 358 73.86 355.98 75.59 351.21 77.03 344.72 78.48 336.78 79.92 327.4 81.08 317.3 82.09 308.65 82.95 302.15 83.67 297.39 84.68 297.1 85.84 299.27 86.85 299.7 88.29 302.87 89.3 308.65 90.17 315.14 91.03 321.63 91.9 328.85 92.76 337.51 93.63 346.16 94.78 352.66 96.23 355.98 97.96 357.71 99.83 358L99.83 358.1Z" fill="rgb(145,145,145)" fill-opacity="0.534" stroke="none"/>
<path d="M70.97 358 73.86 355.98 75.59 351.21 77.03 344.72 78.48 336.78 79.92 327.4 81.08 317.3 82.09 308.65 82.95 302.15 83.67 297.39 84.68 297.1 85.84 299.27 86.85 299.7 88.29 302.87 89.3 308.65 90.17 315.14 91.03 321.63 91.9 328.85 92.76 337.51 93.63 346.16 94.78 352.66 96.23 355.98 97.96 357.71 99.83 358" fill="none" stroke="#141414" stroke-width="0.72" stroke-linejoin="round"/>
</g>
<path d="M93.4 329.5H148.2" stroke="#2e2e2e" stroke-width="0.9" fill="none"/>
<path d="M93.4 327V332" stroke="#2e2e2e" stroke-width="0.8" fill="none"/>
<text x="121.4" y="301.45" font-size="6.1" text-anchor="middle" class="p">5.41±3.2%</text>
<rect x="49.5" y="290.5" width="99" height="67.6" fill="none" stroke="#464646" stroke-width="0.95"/>
<path d="M46.7 358.1H49.5M48.3 354.89H49.5M48.3 351.67H49.5M48.3 348.46H49.5M46.7 345.24H49.5M48.3 342.03H49.5M48.3 338.81H49.5M48.3 335.6H49.5M46.7 332.38H49.5M48.3 329.17H49.5M48.3 325.95H49.5M48.3 322.74H49.5M46.7 319.52H49.5M48.3 316.31H49.5M48.3 313.09H49.5M48.3 309.88H49.5M46.7 306.66H49.5M48.3 303.44H49.5M48.3 300.23H49.5M48.3 297.01H49.5M46.7 293.8H49.5" stroke="#161616" stroke-width="1.05" fill="none"/>
<text x="44.1" y="359.95" font-size="4.7" text-anchor="end" class="t">0</text>
<text x="44.1" y="347.09" font-size="4.7" text-anchor="end" class="t">20</text>
<text x="44.1" y="334.23" font-size="4.7" text-anchor="end" class="t">40</text>
<text x="44.1" y="321.37" font-size="4.7" text-anchor="end" class="t">60</text>
<text x="44.1" y="308.51" font-size="4.7" text-anchor="end" class="t">80</text>
<text x="44.1" y="295.65" font-size="4.7" text-anchor="end" class="t">100</text>
<text x="46.6" y="367.9" font-size="4.9" class="t">10<tspan dy="-2.5" font-size="3.6">0</tspan></text>
<text x="71.35" y="367.9" font-size="4.9" class="t">10<tspan dy="-2.5" font-size="3.6">1</tspan></text>
<text x="96.1" y="367.9" font-size="4.9" class="t">10<tspan dy="-2.5" font-size="3.6">2</tspan></text>
<text x="120.85" y="367.9" font-size="4.9" class="t">10<tspan dy="-2.5" font-size="3.6">3</tspan></text>
<text x="145.6" y="367.9" font-size="4.9" class="t">10<tspan dy="-2.5" font-size="3.6">4</tspan></text>
<path d="M49.5 358.1V361M56.95 358.1V359.5M61.31 358.1V359.5M64.4 358.1V359.5M66.8 358.1V359.5M68.76 358.1V359.5M70.42 358.1V359.5M71.85 358.1V359.5M73.12 358.1V359.5M74.25 358.1V361M81.7 358.1V359.5M86.06 358.1V359.5M89.15 358.1V359.5M91.55 358.1V359.5M93.51 358.1V359.5M95.17 358.1V359.5M96.6 358.1V359.5M97.87 358.1V359.5M99 358.1V361M106.45 358.1V359.5M110.81 358.1V359.5M113.9 358.1V359.5M116.3 358.1V359.5M118.26 358.1V359.5M119.92 358.1V359.5M121.35 358.1V359.5M122.62 358.1V359.5M123.75 358.1V361M131.2 358.1V359.5M135.56 358.1V359.5M138.65 358.1V359.5M141.05 358.1V359.5M143.01 358.1V359.5M144.67 358.1V359.5M146.1 358.1V359.5M147.37 358.1V359.5M148.5 358.1V361" stroke="#161616" stroke-width="1.05" fill="none"/>
<clipPath id="c31"><rect x="228.5" y="290.5" width="99" height="67.9"/></clipPath>
<g clip-path="url(#c31)">
<path d="M242.32 358.1L242.32 358 245.2 355.54 248.09 350.49 250.97 344.72 253.14 340.39 254.58 334.62 256.02 327.4 257.47 320.19 258.91 312.97 259.63 307.2 260.79 302.87 261.65 301.14 262.37 302.87 263.24 301.43 263.96 303.59 264.68 308.65 265.4 315.86 266.13 323.08 266.85 330.29 267.57 337.51 268.58 344.72 269.73 350.49 271.18 354.82 273.34 356.99 275.51 358L275.51 358.1Z" fill="#414141" stroke="#303030" stroke-width="0.5" stroke-linejoin="round"/>
<path d="M250.25 358.1L250.25 358 253.86 355.54 256.75 351.21 258.91 345.44 260.35 338.95 261.8 331.73 262.81 324.52 263.96 317.3 264.83 310.09 265.69 304.32 266.56 299.99 267.42 298.26 268.29 299.99 269.16 302.87 270.02 305.76 270.89 310.09 271.61 315.86 272.33 323.08 273.2 330.29 274.06 336.06 275.07 341.83 276.23 347.61 277.67 351.21 279.83 354.1 282.72 356.26 286.33 357.71 288.49 358L288.49 358.1Z" fill="rgb(145,145,145)" fill-opacity="0.534" stroke="none"/>
<path d="M250.25 358 253.86 355.54 256.75 351.21 258.91 345.44 260.35 338.95 261.8 331.73 262.81 324.52 263.96 317.3 264.83 310.09 265.69 304.32 266.56 299.99 267.42 298.26 268.29 299.99 269.16 302.87 270.02 305.76 270.89 310.09 271.61 315.86 272.33 323.08 273.2 330.29 274.06 336.06 275.07 341.83 276.23 347.61 277.67 351.21 279.83 354.1 282.72 356.26 286.33 357.71 288.49 358" fill="none" stroke="#141414" stroke-width="0.72" stroke-linejoin="round"/>
</g>
<path d="M272.3 329.5H327.6" stroke="#2e2e2e" stroke-width="0.9" fill="none"/>
<path d="M272.3 327V332M327.4 327.9V331.1" stroke="#2e2e2e" stroke-width="0.8" fill="none"/>
<text x="300.5" y="301.75" font-size="6.1" text-anchor="middle" class="p">28.2±3.1%</text>
<rect x="228.5" y="290.5" width="99" height="67.6" fill="none" stroke="#464646" stroke-width="0.95"/>
<path d="M225.7 358.1H228.5M227.3 354.89H228.5M227.3 351.67H228.5M227.3 348.46H228.5M225.7 345.24H228.5M227.3 342.03H228.5M227.3 338.81H228.5M227.3 335.6H228.5M225.7 332.38H228.5M227.3 329.17H228.5M227.3 325.95H228.5M227.3 322.74H228.5M225.7 319.52H228.5M227.3 316.31H228.5M227.3 313.09H228.5M227.3 309.88H228.5M225.7 306.66H228.5M227.3 303.44H228.5M227.3 300.23H228.5M227.3 297.01H228.5M225.7 293.8H228.5" stroke="#161616" stroke-width="1.05" fill="none"/>
<text x="223.1" y="359.95" font-size="4.7" text-anchor="end" class="t">0</text>
<text x="223.1" y="347.09" font-size="4.7" text-anchor="end" class="t">20</text>
<text x="223.1" y="334.23" font-size="4.7" text-anchor="end" class="t">40</text>
<text x="223.1" y="321.37" font-size="4.7" text-anchor="end" class="t">60</text>
<text x="223.1" y="308.51" font-size="4.7" text-anchor="end" class="t">80</text>
<text x="223.1" y="295.65" font-size="4.7" text-anchor="end" class="t">100</text>
<text x="225.6" y="367.9" font-size="4.9" class="t">10<tspan dy="-2.5" font-size="3.6">0</tspan></text>
<text x="250.35" y="367.9" font-size="4.9" class="t">10<tspan dy="-2.5" font-size="3.6">1</tspan></text>
<text x="275.1" y="367.9" font-size="4.9" class="t">10<tspan dy="-2.5" font-size="3.6">2</tspan></text>
<text x="299.85" y="367.9" font-size="4.9" class="t">10<tspan dy="-2.5" font-size="3.6">3</tspan></text>
<text x="324.6" y="367.9" font-size="4.9" class="t">10<tspan dy="-2.5" font-size="3.6">4</tspan></text>
<path d="M228.5 358.1V361M235.95 358.1V359.5M240.31 358.1V359.5M243.4 358.1V359.5M245.8 358.1V359.5M247.76 358.1V359.5M249.42 358.1V359.5M250.85 358.1V359.5M252.12 358.1V359.5M253.25 358.1V361M260.7 358.1V359.5M265.06 358.1V359.5M268.15 358.1V359.5M270.55 358.1V359.5M272.51 358.1V359.5M274.17 358.1V359.5M275.6 358.1V359.5M276.87 358.1V359.5M278 358.1V361M285.45 358.1V359.5M289.81 358.1V359.5M292.9 358.1V359.5M295.3 358.1V359.5M297.26 358.1V359.5M298.92 358.1V359.5M300.35 358.1V359.5M301.62 358.1V359.5M302.75 358.1V361M310.2 358.1V359.5M314.56 358.1V359.5M317.65 358.1V359.5M320.05 358.1V359.5M322.01 358.1V359.5M323.67 358.1V359.5M325.1 358.1V359.5M326.37 358.1V359.5M327.5 358.1V361" stroke="#161616" stroke-width="1.05" fill="none"/>
<clipPath id="c32"><rect x="376.4" y="290.5" width="98.4" height="67.9"/></clipPath>
<g clip-path="url(#c32)">
<path d="M384.99 358.1L384.99 358 386.72 356.26 387.87 350.49 389.03 340.39 390.04 328.85 391.05 317.3 392.2 307.2 393.36 300.71 394.37 297.39 395.09 298.54 395.81 302.87 396.53 308.65 397.4 317.3 398.26 325.96 399.13 334.62 399.99 343.28 400.86 350.49 401.87 355.54 403.02 357.71 403.75 358L403.75 358.1Z" fill="#414141" stroke="#303030" stroke-width="0.5" stroke-linejoin="round"/>
<path d="M386.43 358.1L386.43 358 389.32 355.54 391.48 350.49 393.36 343.28 395.09 334.62 396.53 327.4 397.69 321.63 398.7 315.86 399.71 311.53 400.86 310.09 402.01 308.65 403.02 307.2 404.03 305.04 404.9 304.32 405.91 305.76 406.92 305.47 408.08 303.59 408.94 303.31 409.81 306.48 410.67 308.65 411.68 307.92 412.84 307.63 413.85 308.65 414.71 310.81 415.29 314.42 416.44 317.3 417.45 320.19 418.46 323.08 419.33 328.85 420.34 333.18 421.35 334.62 422.51 336.06 423.66 340.39 424.67 342.56 425.68 344.72 426.83 346.16 427.99 350.49 429.43 353.38 431.16 355.54 433.33 356.55 436.21 357.42 439.1 357.71 441.99 358L441.99 358.1Z" fill="rgb(145,145,145)" fill-opacity="0.534" stroke="none"/>
<path d="M386.43 358 389.32 355.54 391.48 350.49 393.36 343.28 395.09 334.62 396.53 327.4 397.69 321.63 398.7 315.86 399.71 311.53 400.86 310.09 402.01 308.65 403.02 307.2 404.03 305.04 404.9 304.32 405.91 305.76 406.92 305.47 408.08 303.59 408.94 303.31 409.81 306.48 410.67 308.65 411.68 307.92 412.84 307.63 413.85 308.65 414.71 310.81 415.29 314.42 416.44 317.3 417.45 320.19 418.46 323.08 419.33 328.85 420.34 333.18 421.35 334.62 422.51 336.06 423.66 340.39 424.67 342.56 425.68 344.72 426.83 346.16 427.99 350.49 429.43 353.38 431.16 355.54 433.33 356.55 436.21 357.42 439.1 357.71 441.99 358" fill="none" stroke="#141414" stroke-width="0.72" stroke-linejoin="round"/>
</g>
<path d="M403.5 330.5H473.5" stroke="#2e2e2e" stroke-width="0.9" fill="none"/>
<path d="M403.5 328V333M473.5 328V333" stroke="#2e2e2e" stroke-width="0.8" fill="none"/>
<text x="447.4" y="301.75" font-size="6.1" text-anchor="middle" class="p">76.3±2.6%</text>
<rect x="376.4" y="290.5" width="98.4" height="67.6" fill="none" stroke="#464646" stroke-width="0.95"/>
<path d="M373.6 358.1H376.4M375.2 354.89H376.4M375.2 351.67H376.4M375.2 348.46H376.4M373.6 345.24H376.4M375.2 342.03H376.4M375.2 338.81H376.4M375.2 335.6H376.4M373.6 332.38H376.4M375.2 329.17H376.4M375.2 325.95H376.4M375.2 322.74H376.4M373.6 319.52H376.4M375.2 316.31H376.4M375.2 313.09H376.4M375.2 309.88H376.4M373.6 306.66H376.4M375.2 303.44H376.4M375.2 300.23H376.4M375.2 297.01H376.4M373.6 293.8H376.4" stroke="#161616" stroke-width="1.05" fill="none"/>
<text x="371" y="359.95" font-size="4.7" text-anchor="end" class="t">0</text>
<text x="371" y="347.09" font-size="4.7" text-anchor="end" class="t">20</text>
<text x="371" y="334.23" font-size="4.7" text-anchor="end" class="t">40</text>
<text x="371" y="321.37" font-size="4.7" text-anchor="end" class="t">60</text>
<text x="371" y="308.51" font-size="4.7" text-anchor="end" class="t">80</text>
<text x="371" y="295.65" font-size="4.7" text-anchor="end" class="t">100</text>
<text x="373.5" y="367.9" font-size="4.9" class="t">10<tspan dy="-2.5" font-size="3.6">0</tspan></text>
<text x="398.1" y="367.9" font-size="4.9" class="t">10<tspan dy="-2.5" font-size="3.6">1</tspan></text>
<text x="422.7" y="367.9" font-size="4.9" class="t">10<tspan dy="-2.5" font-size="3.6">2</tspan></text>
<text x="447.3" y="367.9" font-size="4.9" class="t">10<tspan dy="-2.5" font-size="3.6">3</tspan></text>
<text x="471.9" y="367.9" font-size="4.9" class="t">10<tspan dy="-2.5" font-size="3.6">4</tspan></text>
<path d="M376.4 358.1V361M383.81 358.1V359.5M388.14 358.1V359.5M391.21 358.1V359.5M393.59 358.1V359.5M395.54 358.1V359.5M397.19 358.1V359.5M398.62 358.1V359.5M399.87 358.1V359.5M401 358.1V361M408.41 358.1V359.5M412.74 358.1V359.5M415.81 358.1V359.5M418.19 358.1V359.5M420.14 358.1V359.5M421.79 358.1V359.5M423.22 358.1V359.5M424.47 358.1V359.5M425.6 358.1V361M433.01 358.1V359.5M437.34 358.1V359.5M440.41 358.1V359.5M442.79 358.1V359.5M444.74 358.1V359.5M446.39 358.1V359.5M447.82 358.1V359.5M449.07 358.1V359.5M450.2 358.1V361M457.61 358.1V359.5M461.94 358.1V359.5M465.01 358.1V359.5M467.39 358.1V359.5M469.34 358.1V359.5M470.99 358.1V359.5M472.42 358.1V359.5M473.67 358.1V359.5M474.8 358.1V361" stroke="#161616" stroke-width="1.05" fill="none"/>
<clipPath id="c40"><rect x="49.5" y="380.5" width="99" height="67.3"/></clipPath>
<g clip-path="url(#c40)">
<path d="M69.1 447.5L69.1 447.42 71.26 445.54 72.99 441.21 74.44 434.72 75.88 426.06 77.32 417.4 78.77 408.02 80.21 399.37 81.65 392.87 82.81 387.82 83.67 385.95 84.54 387.82 85.4 392.15 86.41 398.65 87.42 405.86 88.29 414.52 89.3 423.18 90.31 431.83 91.46 439.05 92.62 443.67 94.06 446.26 95.79 447.42L95.79 447.5Z" fill="#414141" stroke="#303030" stroke-width="0.5" stroke-linejoin="round"/>
<path d="M68.09 447.5L68.09 447.42 70.25 445.54 71.98 441.21 73.43 434.72 74.87 426.06 76.31 417.4 77.76 408.02 79.2 399.37 80.64 392.87 81.8 387.82 83.67 385.95 84.54 387.82 85.4 392.15 86.41 398.65 87.42 405.86 88.29 414.52 89.3 423.18 90.31 431.83 91.46 439.05 92.62 443.67 94.06 446.26 95.79 447.42L95.79 447.5Z" fill="rgb(145,145,145)" fill-opacity="0.534" stroke="none"/>
<path d="M68.09 447.42 70.25 445.54 71.98 441.21 73.43 434.72 74.87 426.06 76.31 417.4 77.76 408.02 79.2 399.37 80.64 392.87 81.8 387.82 83.67 385.95 84.54 387.82 85.4 392.15 86.41 398.65 87.42 405.86 88.29 414.52 89.3 423.18 90.31 431.83 91.46 439.05 92.62 443.67 94.06 446.26 95.79 447.42" fill="none" stroke="#141414" stroke-width="0.72" stroke-linejoin="round"/>
<path d="M70.83 445.54 72.56 441.21 74 434.72 75.45 426.06 76.89 417.4 78.33 408.02 79.78 399.37 81.22 392.87" fill="none" stroke="#d8d8d8" stroke-width="0.5" stroke-linejoin="round"/>
</g>
<path d="M93.6 419.1H148.1" stroke="#7a7a7a" stroke-width="1.4" fill="none"/>
<path d="M93.6 416.6V421.6" stroke="#2e2e2e" stroke-width="0.8" fill="none"/>
<text x="123.8" y="390.65" font-size="6.1" text-anchor="middle" class="p">1.2±0.3%</text>
<rect x="49.5" y="380.5" width="99" height="67" fill="none" stroke="#464646" stroke-width="0.95"/>
<path d="M46.7 447.5H49.5M48.3 444.3H49.5M48.3 441.09H49.5M48.3 437.88H49.5M46.7 434.68H49.5M48.3 431.48H49.5M48.3 428.27H49.5M48.3 425.06H49.5M46.7 421.86H49.5M48.3 418.65H49.5M48.3 415.45H49.5M48.3 412.25H49.5M46.7 409.04H49.5M48.3 405.83H49.5M48.3 402.63H49.5M48.3 399.42H49.5M46.7 396.22H49.5M48.3 393.01H49.5M48.3 389.81H49.5M48.3 386.6H49.5M46.7 383.4H49.5" stroke="#161616" stroke-width="1.05" fill="none"/>
<text x="44.1" y="449.35" font-size="4.7" text-anchor="end" class="t">0</text>
<text x="44.1" y="436.53" font-size="4.7" text-anchor="end" class="t">20</text>
<text x="44.1" y="423.71" font-size="4.7" text-anchor="end" class="t">40</text>
<text x="44.1" y="410.89" font-size="4.7" text-anchor="end" class="t">60</text>
<text x="44.1" y="398.07" font-size="4.7" text-anchor="end" class="t">80</text>
<text x="44.1" y="385.25" font-size="4.7" text-anchor="end" class="t">100</text>
<text x="46.6" y="457.3" font-size="4.9" class="t">10<tspan dy="-2.5" font-size="3.6">0</tspan></text>
<text x="71.35" y="457.3" font-size="4.9" class="t">10<tspan dy="-2.5" font-size="3.6">1</tspan></text>
<text x="96.1" y="457.3" font-size="4.9" class="t">10<tspan dy="-2.5" font-size="3.6">2</tspan></text>
<text x="120.85" y="457.3" font-size="4.9" class="t">10<tspan dy="-2.5" font-size="3.6">3</tspan></text>
<text x="145.6" y="457.3" font-size="4.9" class="t">10<tspan dy="-2.5" font-size="3.6">4</tspan></text>
<path d="M49.5 447.5V450.4M56.95 447.5V448.9M61.31 447.5V448.9M64.4 447.5V448.9M66.8 447.5V448.9M68.76 447.5V448.9M70.42 447.5V448.9M71.85 447.5V448.9M73.12 447.5V448.9M74.25 447.5V450.4M81.7 447.5V448.9M86.06 447.5V448.9M89.15 447.5V448.9M91.55 447.5V448.9M93.51 447.5V448.9M95.17 447.5V448.9M96.6 447.5V448.9M97.87 447.5V448.9M99 447.5V450.4M106.45 447.5V448.9M110.81 447.5V448.9M113.9 447.5V448.9M116.3 447.5V448.9M118.26 447.5V448.9M119.92 447.5V448.9M121.35 447.5V448.9M122.62 447.5V448.9M123.75 447.5V450.4M131.2 447.5V448.9M135.56 447.5V448.9M138.65 447.5V448.9M141.05 447.5V448.9M143.01 447.5V448.9M144.67 447.5V448.9M146.1 447.5V448.9M147.37 447.5V448.9M148.5 447.5V450.4" stroke="#161616" stroke-width="1.05" fill="none"/>
<clipPath id="c41"><rect x="228.5" y="380.5" width="99" height="67.3"/></clipPath>
<g clip-path="url(#c41)">
<path d="M242.32 447.5L242.32 447.42 245.2 444.82 248.09 439.77 250.97 434 253.14 428.95 254.58 423.18 256.02 415.96 257.47 409.47 258.91 402.25 259.92 396.48 261.08 392.15 261.8 390.28 262.52 392.15 263.38 390.71 264.11 393.59 264.83 398.65 265.55 405.86 266.27 413.08 266.99 420.29 267.71 426.78 268.58 434 269.73 439.77 271.18 444.1 273.34 446.55 275.51 447.42L275.51 447.5Z" fill="#414141" stroke="#303030" stroke-width="0.5" stroke-linejoin="round"/>
<path d="M250.97 447.5L250.97 447.42 254.58 445.54 257.47 441.94 259.63 436.16 261.08 428.95 262.52 420.29 263.67 413.08 264.68 405.86 265.69 398.65 266.56 392.87 267.42 389.27 268.29 387.39 269.16 388.54 270.02 390.71 270.89 395.04 271.46 400.81 272.33 407.3 273.05 414.52 274.06 420.29 275.07 427.51 276.23 433.28 277.67 434.72 279.55 435.44 281.28 437.61 283.44 440.49 285.61 443.38 287.77 446.26 289.21 447.42L289.21 447.5Z" fill="rgb(145,145,145)" fill-opacity="0.534" stroke="none"/>
<path d="M250.97 447.42 254.58 445.54 257.47 441.94 259.63 436.16 261.08 428.95 262.52 420.29 263.67 413.08 264.68 405.86 265.69 398.65 266.56 392.87 267.42 389.27 268.29 387.39 269.16 388.54 270.02 390.71 270.89 395.04 271.46 400.81 272.33 407.3 273.05 414.52 274.06 420.29 275.07 427.51 276.23 433.28 277.67 434.72 279.55 435.44 281.28 437.61 283.44 440.49 285.61 443.38 287.77 446.26 289.21 447.42" fill="none" stroke="#141414" stroke-width="0.72" stroke-linejoin="round"/>
</g>
<path d="M271.9 419.1H327.6" stroke="#7a7a7a" stroke-width="1.4" fill="none"/>
<path d="M271.9 416.6V421.6M327.4 417.5V420.7" stroke="#2e2e2e" stroke-width="0.8" fill="none"/>
<text x="303.9" y="390.65" font-size="6.1" text-anchor="middle" class="p">29±4.5%</text>
<rect x="228.5" y="380.5" width="99" height="67" fill="none" stroke="#464646" stroke-width="0.95"/>
<path d="M225.7 447.5H228.5M227.3 444.3H228.5M227.3 441.09H228.5M227.3 437.88H228.5M225.7 434.68H228.5M227.3 431.48H228.5M227.3 428.27H228.5M227.3 425.06H228.5M225.7 421.86H228.5M227.3 418.65H228.5M227.3 415.45H228.5M227.3 412.25H228.5M225.7 409.04H228.5M227.3 405.83H228.5M227.3 402.63H228.5M227.3 399.42H228.5M225.7 396.22H228.5M227.3 393.01H228.5M227.3 389.81H228.5M227.3 386.6H228.5M225.7 383.4H228.5" stroke="#161616" stroke-width="1.05" fill="none"/>
<text x="223.1" y="449.35" font-size="4.7" text-anchor="end" class="t">0</text>
<text x="223.1" y="436.53" font-size="4.7" text-anchor="end" class="t">20</text>
<text x="223.1" y="423.71" font-size="4.7" text-anchor="end" class="t">40</text>
<text x="223.1" y="410.89" font-size="4.7" text-anchor="end" class="t">60</text>
<text x="223.1" y="398.07" font-size="4.7" text-anchor="end" class="t">80</text>
<text x="223.1" y="385.25" font-size="4.7" text-anchor="end" class="t">100</text>
<text x="225.6" y="457.3" font-size="4.9" class="t">10<tspan dy="-2.5" font-size="3.6">0</tspan></text>
<text x="250.35" y="457.3" font-size="4.9" class="t">10<tspan dy="-2.5" font-size="3.6">1</tspan></text>
<text x="275.1" y="457.3" font-size="4.9" class="t">10<tspan dy="-2.5" font-size="3.6">2</tspan></text>
<text x="299.85" y="457.3" font-size="4.9" class="t">10<tspan dy="-2.5" font-size="3.6">3</tspan></text>
<text x="324.6" y="457.3" font-size="4.9" class="t">10<tspan dy="-2.5" font-size="3.6">4</tspan></text>
<path d="M228.5 447.5V450.4M235.95 447.5V448.9M240.31 447.5V448.9M243.4 447.5V448.9M245.8 447.5V448.9M247.76 447.5V448.9M249.42 447.5V448.9M250.85 447.5V448.9M252.12 447.5V448.9M253.25 447.5V450.4M260.7 447.5V448.9M265.06 447.5V448.9M268.15 447.5V448.9M270.55 447.5V448.9M272.51 447.5V448.9M274.17 447.5V448.9M275.6 447.5V448.9M276.87 447.5V448.9M278 447.5V450.4M285.45 447.5V448.9M289.81 447.5V448.9M292.9 447.5V448.9M295.3 447.5V448.9M297.26 447.5V448.9M298.92 447.5V448.9M300.35 447.5V448.9M301.62 447.5V448.9M302.75 447.5V450.4M310.2 447.5V448.9M314.56 447.5V448.9M317.65 447.5V448.9M320.05 447.5V448.9M322.01 447.5V448.9M323.67 447.5V448.9M325.1 447.5V448.9M326.37 447.5V448.9M327.5 447.5V450.4" stroke="#161616" stroke-width="1.05" fill="none"/>
<clipPath id="c42"><rect x="376.5" y="380.5" width="98.3" height="67.3"/></clipPath>
<g clip-path="url(#c42)">
<path d="M385.71 447.5L385.71 447.42 387.15 444.82 388.16 439.05 389.03 430.39 389.89 420.29 390.76 410.19 391.77 400.09 392.92 392.87 393.93 388.54 394.66 386.81 395.38 389.27 396.1 394.32 396.82 401.53 397.69 410.19 398.55 420.29 399.42 430.39 400.28 439.05 401.29 444.1 402.59 446.55 404.47 447.42L404.47 447.5Z" fill="#414141" stroke="#303030" stroke-width="0.5" stroke-linejoin="round"/>
<path d="M403.02 447.5L403.02 447.42 406.63 446.84 409.52 445.54 412.12 442.66 414.14 438.33 415.72 432.56 417.02 426.06 418.18 418.85 419.19 411.63 420.2 404.42 421.06 398.65 421.93 393.59 422.79 389.99 423.66 392.15 424.67 393.59 426.11 394.32 427.12 395.76 427.99 401.53 428.85 408.75 429.72 417.4 430.59 426.06 431.6 434.72 432.61 440.49 433.76 444.82 435.2 446.99 436.21 447.42L436.21 447.5Z" fill="rgb(145,145,145)" fill-opacity="0.534" stroke="none"/>
<path d="M403.02 447.42 406.63 446.84 409.52 445.54 412.12 442.66 414.14 438.33 415.72 432.56 417.02 426.06 418.18 418.85 419.19 411.63 420.2 404.42 421.06 398.65 421.93 393.59 422.79 389.99 423.66 392.15 424.67 393.59 426.11 394.32 427.12 395.76 427.99 401.53 428.85 408.75 429.72 417.4 430.59 426.06 431.6 434.72 432.61 440.49 433.76 444.82 435.2 446.99 436.21 447.42" fill="none" stroke="#141414" stroke-width="0.72" stroke-linejoin="round"/>
</g>
<path d="M403.5 419.5H473.6" stroke="#2e2e2e" stroke-width="0.9" fill="none"/>
<path d="M403.5 417V422M473.6 417V422" stroke="#2e2e2e" stroke-width="0.8" fill="none"/>
<text x="447.4" y="390.65" font-size="6.1" text-anchor="middle" class="p">99.7±0.2%</text>
<rect x="376.5" y="380.5" width="98.3" height="67" fill="none" stroke="#464646" stroke-width="0.95"/>
<path d="M373.7 447.5H376.5M375.3 444.3H376.5M375.3 441.09H376.5M375.3 437.88H376.5M373.7 434.68H376.5M375.3 431.48H376.5M375.3 428.27H376.5M375.3 425.06H376.5M373.7 421.86H376.5M375.3 418.65H376.5M375.3 415.45H376.5M375.3 412.25H376.5M373.7 409.04H376.5M375.3 405.83H376.5M375.3 402.63H376.5M375.3 399.42H376.5M373.7 396.22H376.5M375.3 393.01H376.5M375.3 389.81H376.5M375.3 386.6H376.5M373.7 383.4H376.5" stroke="#161616" stroke-width="1.05" fill="none"/>
<text x="371.1" y="449.35" font-size="4.7" text-anchor="end" class="t">0</text>
<text x="371.1" y="436.53" font-size="4.7" text-anchor="end" class="t">20</text>
<text x="371.1" y="423.71" font-size="4.7" text-anchor="end" class="t">40</text>
<text x="371.1" y="410.89" font-size="4.7" text-anchor="end" class="t">60</text>
<text x="371.1" y="398.07" font-size="4.7" text-anchor="end" class="t">80</text>
<text x="371.1" y="385.25" font-size="4.7" text-anchor="end" class="t">100</text>
<text x="373.6" y="457.3" font-size="4.9" class="t">10<tspan dy="-2.5" font-size="3.6">0</tspan></text>
<text x="398.18" y="457.3" font-size="4.9" class="t">10<tspan dy="-2.5" font-size="3.6">1</tspan></text>
<text x="422.75" y="457.3" font-size="4.9" class="t">10<tspan dy="-2.5" font-size="3.6">2</tspan></text>
<text x="447.33" y="457.3" font-size="4.9" class="t">10<tspan dy="-2.5" font-size="3.6">3</tspan></text>
<text x="471.9" y="457.3" font-size="4.9" class="t">10<tspan dy="-2.5" font-size="3.6">4</tspan></text>
<path d="M376.5 447.5V450.4M383.9 447.5V448.9M388.23 447.5V448.9M391.3 447.5V448.9M393.68 447.5V448.9M395.62 447.5V448.9M397.27 447.5V448.9M398.69 447.5V448.9M399.95 447.5V448.9M401.07 447.5V450.4M408.47 447.5V448.9M412.8 447.5V448.9M415.87 447.5V448.9M418.25 447.5V448.9M420.2 447.5V448.9M421.84 447.5V448.9M423.27 447.5V448.9M424.53 447.5V448.9M425.65 447.5V450.4M433.05 447.5V448.9M437.38 447.5V448.9M440.45 447.5V448.9M442.83 447.5V448.9M444.77 447.5V448.9M446.42 447.5V448.9M447.84 447.5V448.9M449.1 447.5V448.9M450.23 447.5V450.4M457.62 447.5V448.9M461.95 447.5V448.9M465.02 447.5V448.9M467.4 447.5V448.9M469.35 447.5V448.9M470.99 447.5V448.9M472.42 447.5V448.9M473.68 447.5V448.9M474.8 447.5V450.4" stroke="#161616" stroke-width="1.05" fill="none"/>
<clipPath id="c50"><rect x="49.5" y="469.5" width="99" height="67.5"/></clipPath>
<g clip-path="url(#c50)">
<path d="M50.05 536.7L50.05 536.7 50.19 513.62 50.63 528.05 51.64 530.21 53.08 528.05 55.25 523.72 57.41 518.67 59.57 512.18 61.02 505.68 62.46 499.91 63.9 496.3 65.35 490.53 66.79 486.2 68.23 483.32 69.39 480.43 70.4 478.7 72.27 481.15 73.14 484.76 74.15 486.92 75.59 489.81 76.6 494.86 77.76 500.63 78.91 504.96 79.92 510.73 80.93 516.51 82.09 522.28 83.24 528.05 84.68 532.38 86.41 534.54 89.3 535.84 93.63 536.42 99.4 536.7L99.4 536.7Z" fill="#414141" stroke="#303030" stroke-width="0.5" stroke-linejoin="round"/>
<path d="M49.91 536.7L49.91 536.7 50.05 513.62 50.48 528.05 51.49 530.21 52.5 528.05 54.67 523.72 56.83 518.67 59 512.18 60.44 505.68 61.88 499.91 63.33 496.3 64.77 490.53 66.21 486.2 67.66 483.32 68.81 480.43 69.82 478.7 71.26 481.15 72.13 484.76 73.14 486.92 74.58 489.81 75.59 494.86 76.75 500.63 77.9 504.96 78.91 510.73 79.92 516.51 81.08 522.28 82.23 528.05 83.67 532.38 85.4 534.54 88.29 535.84 92.62 536.42 98.39 536.7L98.39 536.7Z" fill="rgb(145,145,145)" fill-opacity="0.534" stroke="none"/>
<path d="M49.91 536.7 50.05 513.62 50.48 528.05 51.49 530.21 52.5 528.05 54.67 523.72 56.83 518.67 59 512.18 60.44 505.68 61.88 499.91 63.33 496.3 64.77 490.53 66.21 486.2 67.66 483.32 68.81 480.43 69.82 478.7 71.26 481.15 72.13 484.76 73.14 486.92 74.58 489.81 75.59 494.86 76.75 500.63 77.9 504.96 78.91 510.73 79.92 516.51 81.08 522.28 82.23 528.05 83.67 532.38 85.4 534.54 88.29 535.84 92.62 536.42 98.39 536.7" fill="none" stroke="#141414" stroke-width="0.72" stroke-linejoin="round"/>
<path d="M55.53 523.72 57.7 518.67 59.86 512.18 61.31 505.68 62.75 499.91 64.19 496.3 65.63 490.53 67.08 486.2 68.52 483.32 69.68 480.43" fill="none" stroke="#d8d8d8" stroke-width="0.5" stroke-linejoin="round"/>
</g>
<path d="M88.6 507.5H148.2" stroke="#2e2e2e" stroke-width="0.9" fill="none"/>
<path d="M88.6 505V510" stroke="#2e2e2e" stroke-width="0.8" fill="none"/>
<text x="132.9" y="480.75" font-size="6.1" text-anchor="middle" class="p">N.D</text>
<rect x="49.5" y="469.5" width="99" height="67.2" fill="none" stroke="#464646" stroke-width="0.95"/>
<path d="M46.7 536.7H49.5M48.3 533.5H49.5M48.3 530.31H49.5M48.3 527.12H49.5M46.7 523.92H49.5M48.3 520.73H49.5M48.3 517.53H49.5M48.3 514.34H49.5M46.7 511.14H49.5M48.3 507.95H49.5M48.3 504.75H49.5M48.3 501.56H49.5M46.7 498.36H49.5M48.3 495.17H49.5M48.3 491.97H49.5M48.3 488.78H49.5M46.7 485.58H49.5M48.3 482.38H49.5M48.3 479.19H49.5M48.3 476H49.5M46.7 472.8H49.5" stroke="#161616" stroke-width="1.05" fill="none"/>
<text x="44.1" y="538.55" font-size="4.7" text-anchor="end" class="t">0</text>
<text x="44.1" y="525.77" font-size="4.7" text-anchor="end" class="t">20</text>
<text x="44.1" y="512.99" font-size="4.7" text-anchor="end" class="t">40</text>
<text x="44.1" y="500.21" font-size="4.7" text-anchor="end" class="t">60</text>
<text x="44.1" y="487.43" font-size="4.7" text-anchor="end" class="t">80</text>
<text x="44.1" y="474.65" font-size="4.7" text-anchor="end" class="t">100</text>
<text x="46.6" y="546.5" font-size="4.9" class="t">10<tspan dy="-2.5" font-size="3.6">0</tspan></text>
<text x="71.35" y="546.5" font-size="4.9" class="t">10<tspan dy="-2.5" font-size="3.6">1</tspan></text>
<text x="96.1" y="546.5" font-size="4.9" class="t">10<tspan dy="-2.5" font-size="3.6">2</tspan></text>
<text x="120.85" y="546.5" font-size="4.9" class="t">10<tspan dy="-2.5" font-size="3.6">3</tspan></text>
<text x="145.6" y="546.5" font-size="4.9" class="t">10<tspan dy="-2.5" font-size="3.6">4</tspan></text>
<path d="M49.5 536.7V539.6M56.95 536.7V538.1M61.31 536.7V538.1M64.4 536.7V538.1M66.8 536.7V538.1M68.76 536.7V538.1M70.42 536.7V538.1M71.85 536.7V538.1M73.12 536.7V538.1M74.25 536.7V539.6M81.7 536.7V538.1M86.06 536.7V538.1M89.15 536.7V538.1M91.55 536.7V538.1M93.51 536.7V538.1M95.17 536.7V538.1M96.6 536.7V538.1M97.87 536.7V538.1M99 536.7V539.6M106.45 536.7V538.1M110.81 536.7V538.1M113.9 536.7V538.1M116.3 536.7V538.1M118.26 536.7V538.1M119.92 536.7V538.1M121.35 536.7V538.1M122.62 536.7V538.1M123.75 536.7V539.6M131.2 536.7V538.1M135.56 536.7V538.1M138.65 536.7V538.1M141.05 536.7V538.1M143.01 536.7V538.1M144.67 536.7V538.1M146.1 536.7V538.1M147.37 536.7V538.1M148.5 536.7V539.6" stroke="#161616" stroke-width="1.05" fill="none"/>
<clipPath id="c51"><rect x="228.5" y="469.5" width="99" height="67.5"/></clipPath>
<g clip-path="url(#c51)">
<path d="M228.61 536.7L228.61 536.7 228.75 525.16 229.33 529.49 230.77 531.66 232.94 530.21 235.1 526.61 237.27 521.56 239.43 515.06 241.16 508.57 242.6 502.08 244.05 494.86 245.49 489.09 246.65 486.2 247.66 481.87 248.38 477.54 249.24 479.71 250.11 480.43 250.97 477.26 251.84 478.27 252.71 480.43 253.57 481.87 254.58 478.99 255.59 480.43 256.17 486.2 257.03 494.86 257.9 503.52 258.77 512.18 259.63 519.39 260.79 525.16 262.23 529.49 263.96 533.1 266.13 535.26 268.29 536.42 271.18 536.7L271.18 536.7Z" fill="#414141" stroke="#303030" stroke-width="0.5" stroke-linejoin="round"/>
<path d="M228.61 536.7L228.61 536.7 228.75 529.49 229.62 533.1 231.49 533.82 233.66 532.38 235.82 529.49 237.99 525.16 240.15 519.39 242.03 512.9 243.76 505.68 245.2 499.19 246.65 492.7 247.8 488.37 248.81 487.65 249.82 484.04 250.69 480.43 251.7 478.7 252.71 481.58 253.86 483.03 254.87 479.71 255.74 480.43 256.46 484.76 257.47 489.09 258.48 493.42 259.63 499.19 260.64 505.68 261.65 512.18 262.81 517.95 263.96 522.28 266.13 524.44 268.29 526.61 271.18 529.2 274.06 531.66 276.95 533.82 279.83 535.26 284.16 536.42 288.49 536.7L288.49 536.7Z" fill="rgb(145,145,145)" fill-opacity="0.534" stroke="none"/>
<path d="M228.61 536.7 228.75 529.49 229.62 533.1 231.49 533.82 233.66 532.38 235.82 529.49 237.99 525.16 240.15 519.39 242.03 512.9 243.76 505.68 245.2 499.19 246.65 492.7 247.8 488.37 248.81 487.65 249.82 484.04 250.69 480.43 251.7 478.7 252.71 481.58 253.86 483.03 254.87 479.71 255.74 480.43 256.46 484.76 257.47 489.09 258.48 493.42 259.63 499.19 260.64 505.68 261.65 512.18 262.81 517.95 263.96 522.28 266.13 524.44 268.29 526.61 271.18 529.2 274.06 531.66 276.95 533.82 279.83 535.26 284.16 536.42 288.49 536.7" fill="none" stroke="#141414" stroke-width="0.72" stroke-linejoin="round"/>
</g>
<path d="M270 509.6H327.6" stroke="#707070" stroke-width="1.4" fill="none"/>
<path d="M270 507.1V512.1" stroke="#2e2e2e" stroke-width="0.8" fill="none"/>
<text x="303" y="480.85" font-size="6.1" text-anchor="middle" class="p">5.4±2.3%</text>
<rect x="228.5" y="469.5" width="99" height="67.2" fill="none" stroke="#464646" stroke-width="0.95"/>
<path d="M225.7 536.7H228.5M227.3 533.5H228.5M227.3 530.31H228.5M227.3 527.12H228.5M225.7 523.92H228.5M227.3 520.73H228.5M227.3 517.53H228.5M227.3 514.34H228.5M225.7 511.14H228.5M227.3 507.95H228.5M227.3 504.75H228.5M227.3 501.56H228.5M225.7 498.36H228.5M227.3 495.17H228.5M227.3 491.97H228.5M227.3 488.78H228.5M225.7 485.58H228.5M227.3 482.38H228.5M227.3 479.19H228.5M227.3 476H228.5M225.7 472.8H228.5" stroke="#161616" stroke-width="1.05" fill="none"/>
<text x="223.1" y="538.55" font-size="4.7" text-anchor="end" class="t">0</text>
<text x="223.1" y="525.77" font-size="4.7" text-anchor="end" class="t">20</text>
<text x="223.1" y="512.99" font-size="4.7" text-anchor="end" class="t">40</text>
<text x="223.1" y="500.21" font-size="4.7" text-anchor="end" class="t">60</text>
<text x="223.1" y="487.43" font-size="4.7" text-anchor="end" class="t">80</text>
<text x="223.1" y="474.65" font-size="4.7" text-anchor="end" class="t">100</text>
<text x="225.6" y="546.5" font-size="4.9" class="t">10<tspan dy="-2.5" font-size="3.6">0</tspan></text>
<text x="250.35" y="546.5" font-size="4.9" class="t">10<tspan dy="-2.5" font-size="3.6">1</tspan></text>
<text x="275.1" y="546.5" font-size="4.9" class="t">10<tspan dy="-2.5" font-size="3.6">2</tspan></text>
<text x="299.85" y="546.5" font-size="4.9" class="t">10<tspan dy="-2.5" font-size="3.6">3</tspan></text>
<text x="324.6" y="546.5" font-size="4.9" class="t">10<tspan dy="-2.5" font-size="3.6">4</tspan></text>
<path d="M228.5 536.7V539.6M235.95 536.7V538.1M240.31 536.7V538.1M243.4 536.7V538.1M245.8 536.7V538.1M247.76 536.7V538.1M249.42 536.7V538.1M250.85 536.7V538.1M252.12 536.7V538.1M253.25 536.7V539.6M260.7 536.7V538.1M265.06 536.7V538.1M268.15 536.7V538.1M270.55 536.7V538.1M272.51 536.7V538.1M274.17 536.7V538.1M275.6 536.7V538.1M276.87 536.7V538.1M278 536.7V539.6M285.45 536.7V538.1M289.81 536.7V538.1M292.9 536.7V538.1M295.3 536.7V538.1M297.26 536.7V538.1M298.92 536.7V538.1M300.35 536.7V538.1M301.62 536.7V538.1M302.75 536.7V539.6M310.2 536.7V538.1M314.56 536.7V538.1M317.65 536.7V538.1M320.05 536.7V538.1M322.01 536.7V538.1M323.67 536.7V538.1M325.1 536.7V538.1M326.37 536.7V538.1M327.5 536.7V539.6" stroke="#161616" stroke-width="1.05" fill="none"/>
<clipPath id="c52"><rect x="376.5" y="469.5" width="98.3" height="67.5"/></clipPath>
<g clip-path="url(#c52)">
<path d="M376.33 536.7L376.33 536.7 376.47 489.81 378.49 489.09 379.94 487.65 380.95 484.04 382.1 481.15 383.26 479.28 384.41 479.28 385.28 481.87 386.14 484.04 387.15 483.32 388.16 486.2 389.32 489.81 390.47 494.86 391.48 500.63 392.49 507.85 393.65 515.06 394.8 522.28 395.81 528.05 397.25 532.38 399.13 534.98 401.58 536.42 403.75 536.7L403.75 536.7Z" fill="#414141" stroke="#303030" stroke-width="0.5" stroke-linejoin="round"/>
<path d="M376.33 536.7L376.33 536.7 376.47 494.86 377.48 504.96 378.49 502.08 379.5 497.02 380.66 493.42 381.81 490.53 382.97 488.37 384.12 487.65 385.28 485.48 386.43 483.32 387.58 481.58 388.59 479.71 389.6 479.28 390.76 480.43 391.62 484.76 392.49 488.37 393.65 492.7 394.8 497.02 395.81 502.08 396.82 507.13 397.97 512.18 399.42 516.51 400.86 520.83 402.3 525.16 403.75 528.05 405.48 530.65 407.35 532.67 409.52 533.1 411.25 533.82 413.13 535.55 415.29 536.42 419.62 536.7L419.62 536.7Z" fill="rgb(145,145,145)" fill-opacity="0.534" stroke="none"/>
<path d="M376.33 536.7 376.47 494.86 377.48 504.96 378.49 502.08 379.5 497.02 380.66 493.42 381.81 490.53 382.97 488.37 384.12 487.65 385.28 485.48 386.43 483.32 387.58 481.58 388.59 479.71 389.6 479.28 390.76 480.43 391.62 484.76 392.49 488.37 393.65 492.7 394.8 497.02 395.81 502.08 396.82 507.13 397.97 512.18 399.42 516.51 400.86 520.83 402.3 525.16 403.75 528.05 405.48 530.65 407.35 532.67 409.52 533.1 411.25 533.82 413.13 535.55 415.29 536.42 419.62 536.7" fill="none" stroke="#141414" stroke-width="0.72" stroke-linejoin="round"/>
</g>
<path d="M400.6 507.8H474.5" stroke="#7a7a7a" stroke-width="1.4" fill="none"/>
<path d="M400.6 505.3V510.3M474.3 506.2V509.4" stroke="#2e2e2e" stroke-width="0.8" fill="none"/>
<text x="450.7" y="480.85" font-size="6.1" text-anchor="middle" class="p">12±5.9%</text>
<rect x="376.5" y="469.5" width="98.3" height="67.2" fill="none" stroke="#464646" stroke-width="0.95"/>
<path d="M373.7 536.7H376.5M375.3 533.5H376.5M375.3 530.31H376.5M375.3 527.12H376.5M373.7 523.92H376.5M375.3 520.73H376.5M375.3 517.53H376.5M375.3 514.34H376.5M373.7 511.14H376.5M375.3 507.95H376.5M375.3 504.75H376.5M375.3 501.56H376.5M373.7 498.36H376.5M375.3 495.17H376.5M375.3 491.97H376.5M375.3 488.78H376.5M373.7 485.58H376.5M375.3 482.38H376.5M375.3 479.19H376.5M375.3 476H376.5M373.7 472.8H376.5" stroke="#161616" stroke-width="1.05" fill="none"/>
<text x="371.1" y="538.55" font-size="4.7" text-anchor="end" class="t">0</text>
<text x="371.1" y="525.77" font-size="4.7" text-anchor="end" class="t">20</text>
<text x="371.1" y="512.99" font-size="4.7" text-anchor="end" class="t">40</text>
<text x="371.1" y="500.21" font-size="4.7" text-anchor="end" class="t">60</text>
<text x="371.1" y="487.43" font-size="4.7" text-anchor="end" class="t">80</text>
<text x="371.1" y="474.65" font-size="4.7" text-anchor="end" class="t">100</text>
<text x="373.6" y="546.5" font-size="4.9" class="t">10<tspan dy="-2.5" font-size="3.6">0</tspan></text>
<text x="398.18" y="546.5" font-size="4.9" class="t">10<tspan dy="-2.5" font-size="3.6">1</tspan></text>
<text x="422.75" y="546.5" font-size="4.9" class="t">10<tspan dy="-2.5" font-size="3.6">2</tspan></text>
<text x="447.33" y="546.5" font-size="4.9" class="t">10<tspan dy="-2.5" font-size="3.6">3</tspan></text>
<text x="471.9" y="546.5" font-size="4.9" class="t">10<tspan dy="-2.5" font-size="3.6">4</tspan></text>
<path d="M376.5 536.7V539.6M383.9 536.7V538.1M388.23 536.7V538.1M391.3 536.7V538.1M393.68 536.7V538.1M395.62 536.7V538.1M397.27 536.7V538.1M398.69 536.7V538.1M399.95 536.7V538.1M401.07 536.7V539.6M408.47 536.7V538.1M412.8 536.7V538.1M415.87 536.7V538.1M418.25 536.7V538.1M420.2 536.7V538.1M421.84 536.7V538.1M423.27 536.7V538.1M424.53 536.7V538.1M425.65 536.7V539.6M433.05 536.7V538.1M437.38 536.7V538.1M440.45 536.7V538.1M442.83 536.7V538.1M444.77 536.7V538.1M446.42 536.7V538.1M447.84 536.7V538.1M449.1 536.7V538.1M450.23 536.7V539.6M457.62 536.7V538.1M461.95 536.7V538.1M465.02 536.7V538.1M467.4 536.7V538.1M469.35 536.7V538.1M470.99 536.7V538.1M472.42 536.7V538.1M473.68 536.7V538.1M474.8 536.7V539.6" stroke="#161616" stroke-width="1.05" fill="none"/>
<text x="0" y="8.45" font-size="10" font-weight="bold">C</text>
<text x="99" y="7.3" font-size="7.5" text-anchor="middle">PBS</text>
<text x="341.5" y="7.3" font-size="7.5" text-anchor="middle">DRA</text>
<path d="M48.4 12.3H149.2M199.3 12.3H484" stroke="#4a4a4a" stroke-width="1.1" fill="none"/>
<text x="96.2" y="21.3" font-size="7.5" text-anchor="middle">G1</text>
<text x="277.8" y="21.3" font-size="7.5" text-anchor="middle">G1</text>
<text x="426.1" y="21.3" font-size="7.5" text-anchor="middle">G2</text>
<text x="1.5" y="46.3" font-size="7.7">side</text>
<text x="1.5" y="134.6" font-size="7.7">F4/80</text>
<text x="1.5" y="223.7" font-size="7.7">Siglec F</text>
<text x="1.5" y="311.0" font-size="7.7">CD14</text>
<text x="1.5" y="399.7" font-size="7.7">CD11b</text>
<text x="1.5" y="488.7" font-size="7.7">MARCO</text>
</svg>
</body></html>
